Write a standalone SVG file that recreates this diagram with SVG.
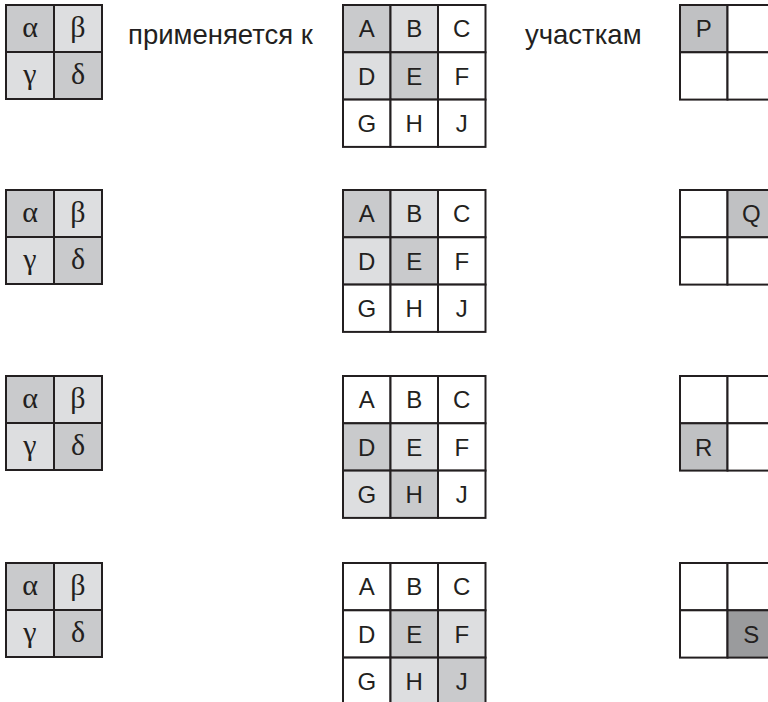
<svg xmlns="http://www.w3.org/2000/svg" width="768" height="702" viewBox="0 0 768 702">
<style>
.g{stroke:#231f20;stroke-width:2;}
.w{fill:#ffffff;}
.d{fill:#c9cacc;}
.l{fill:#dddee0;}
.o{fill:#c0c1c3;}
.s{fill:#9a9b9d;}
.gr{font-family:"Liberation Serif","Times New Roman",serif;font-size:30px;fill:#231f20;text-anchor:middle;}
.lt{font-family:"Liberation Sans",Arial,sans-serif;font-size:24px;fill:#231f20;text-anchor:middle;}
.tx{font-family:"Liberation Sans",Arial,sans-serif;font-size:27.5px;fill:#231f20;}
</style>
<defs>
<g id="kernel">
<rect x="6" y="5" width="48" height="47" class="g d"/>
<rect x="54" y="5" width="48" height="47" class="g l"/>
<rect x="6" y="52" width="48" height="47" class="g l"/>
<rect x="54" y="52" width="48" height="47" class="g d"/>
<text x="30" y="37" class="gr">α</text>
<text x="78" y="37" class="gr">β</text>
<text x="30" y="84" class="gr">γ</text>
<text x="78" y="84" class="gr">δ</text>
</g>
</defs>
<g id="label1"><text x="128" y="44" class="tx">применяется к</text></g>
<g id="label2"><text x="525" y="44" class="tx">участкам</text></g>

<g id="row1">
<use href="#kernel"/>
<g id="grid1">
<rect x="343" y="5" width="47.5" height="47.3" class="g d"/>
<rect x="390.5" y="5" width="47.5" height="47.3" class="g l"/>
<rect x="438" y="5" width="47.5" height="47.3" class="g w"/>
<rect x="343" y="52.3" width="47.5" height="47.3" class="g l"/>
<rect x="390.5" y="52.3" width="47.5" height="47.3" class="g d"/>
<rect x="438" y="52.3" width="47.5" height="47.3" class="g w"/>
<rect x="343" y="99.6" width="47.5" height="47.3" class="g w"/>
<rect x="390.5" y="99.6" width="47.5" height="47.3" class="g w"/>
<rect x="438" y="99.6" width="47.5" height="47.3" class="g w"/>
<text x="366.75" y="37.3" class="lt">A</text><text x="414.25" y="37.3" class="lt">B</text><text x="461.75" y="37.3" class="lt">C</text>
<text x="366.75" y="84.6" class="lt">D</text><text x="414.25" y="84.6" class="lt">E</text><text x="461.75" y="84.6" class="lt">F</text>
<text x="366.75" y="131.9" class="lt">G</text><text x="414.25" y="131.9" class="lt">H</text><text x="461.75" y="131.9" class="lt">J</text>
</g>
<g id="out1">
<rect x="680" y="5" width="47.5" height="47.3" class="g o"/>
<rect x="727.5" y="5" width="47.5" height="47.3" class="g w"/>
<rect x="680" y="52.3" width="47.5" height="47.3" class="g w"/>
<rect x="727.5" y="52.3" width="47.5" height="47.3" class="g w"/>
<text x="703.75" y="37.3" class="lt">P</text>
</g>
</g>

<g id="row2" transform="translate(0,185)">
<use href="#kernel"/>
<g id="grid2">
<rect x="343" y="5" width="47.5" height="47.3" class="g d"/>
<rect x="390.5" y="5" width="47.5" height="47.3" class="g l"/>
<rect x="438" y="5" width="47.5" height="47.3" class="g w"/>
<rect x="343" y="52.3" width="47.5" height="47.3" class="g l"/>
<rect x="390.5" y="52.3" width="47.5" height="47.3" class="g d"/>
<rect x="438" y="52.3" width="47.5" height="47.3" class="g w"/>
<rect x="343" y="99.6" width="47.5" height="47.3" class="g w"/>
<rect x="390.5" y="99.6" width="47.5" height="47.3" class="g w"/>
<rect x="438" y="99.6" width="47.5" height="47.3" class="g w"/>
<text x="366.75" y="37.3" class="lt">A</text><text x="414.25" y="37.3" class="lt">B</text><text x="461.75" y="37.3" class="lt">C</text>
<text x="366.75" y="84.6" class="lt">D</text><text x="414.25" y="84.6" class="lt">E</text><text x="461.75" y="84.6" class="lt">F</text>
<text x="366.75" y="131.9" class="lt">G</text><text x="414.25" y="131.9" class="lt">H</text><text x="461.75" y="131.9" class="lt">J</text>
</g>
<g id="out2">
<rect x="680" y="5" width="47.5" height="47.3" class="g w"/>
<rect x="727.5" y="5" width="47.5" height="47.3" class="g o"/>
<rect x="680" y="52.3" width="47.5" height="47.3" class="g w"/>
<rect x="727.5" y="52.3" width="47.5" height="47.3" class="g w"/>
<text x="751.25" y="37.3" class="lt">Q</text>
</g>
</g>

<g id="row3" transform="translate(0,371)">
<use href="#kernel"/>
<g id="grid3">
<rect x="343" y="5" width="47.5" height="47.3" class="g w"/>
<rect x="390.5" y="5" width="47.5" height="47.3" class="g w"/>
<rect x="438" y="5" width="47.5" height="47.3" class="g w"/>
<rect x="343" y="52.3" width="47.5" height="47.3" class="g d"/>
<rect x="390.5" y="52.3" width="47.5" height="47.3" class="g l"/>
<rect x="438" y="52.3" width="47.5" height="47.3" class="g w"/>
<rect x="343" y="99.6" width="47.5" height="47.3" class="g l"/>
<rect x="390.5" y="99.6" width="47.5" height="47.3" class="g d"/>
<rect x="438" y="99.6" width="47.5" height="47.3" class="g w"/>
<text x="366.75" y="37.3" class="lt">A</text><text x="414.25" y="37.3" class="lt">B</text><text x="461.75" y="37.3" class="lt">C</text>
<text x="366.75" y="84.6" class="lt">D</text><text x="414.25" y="84.6" class="lt">E</text><text x="461.75" y="84.6" class="lt">F</text>
<text x="366.75" y="131.9" class="lt">G</text><text x="414.25" y="131.9" class="lt">H</text><text x="461.75" y="131.9" class="lt">J</text>
</g>
<g id="out3">
<rect x="680" y="5" width="47.5" height="47.3" class="g w"/>
<rect x="727.5" y="5" width="47.5" height="47.3" class="g w"/>
<rect x="680" y="52.3" width="47.5" height="47.3" class="g o"/>
<rect x="727.5" y="52.3" width="47.5" height="47.3" class="g w"/>
<text x="703.75" y="84.6" class="lt">R</text>
</g>
</g>

<g id="row4" transform="translate(0,558)">
<use href="#kernel"/>
<g id="grid4">
<rect x="343" y="5" width="47.5" height="47.3" class="g w"/>
<rect x="390.5" y="5" width="47.5" height="47.3" class="g w"/>
<rect x="438" y="5" width="47.5" height="47.3" class="g w"/>
<rect x="343" y="52.3" width="47.5" height="47.3" class="g w"/>
<rect x="390.5" y="52.3" width="47.5" height="47.3" class="g d"/>
<rect x="438" y="52.3" width="47.5" height="47.3" class="g l"/>
<rect x="343" y="99.6" width="47.5" height="47.3" class="g w"/>
<rect x="390.5" y="99.6" width="47.5" height="47.3" class="g l"/>
<rect x="438" y="99.6" width="47.5" height="47.3" class="g d"/>
<text x="366.75" y="37.3" class="lt">A</text><text x="414.25" y="37.3" class="lt">B</text><text x="461.75" y="37.3" class="lt">C</text>
<text x="366.75" y="84.6" class="lt">D</text><text x="414.25" y="84.6" class="lt">E</text><text x="461.75" y="84.6" class="lt">F</text>
<text x="366.75" y="131.9" class="lt">G</text><text x="414.25" y="131.9" class="lt">H</text><text x="461.75" y="131.9" class="lt">J</text>
</g>
<g id="out4">
<rect x="680" y="5" width="47.5" height="47.3" class="g w"/>
<rect x="727.5" y="5" width="47.5" height="47.3" class="g w"/>
<rect x="680" y="52.3" width="47.5" height="47.3" class="g w"/>
<rect x="727.5" y="52.3" width="47.5" height="47.3" class="g s"/>
<text x="751.25" y="84.6" class="lt">S</text>
</g>
</g>
</svg>
